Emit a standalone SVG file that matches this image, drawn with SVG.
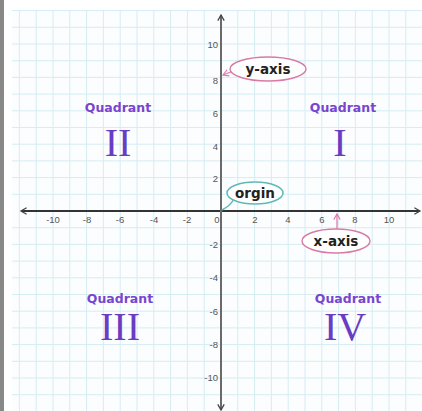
<svg xmlns="http://www.w3.org/2000/svg" width="422" height="411" viewBox="0 0 422 411">
<defs>
<style>
.grid line{stroke:#d6edf2;stroke-width:1}
.tick{font-family:"Liberation Sans",Arial,sans-serif;font-size:9.5px;fill:#555}
.ql{font-family:"DejaVu Sans","Liberation Sans",sans-serif;font-weight:bold;font-size:12.5px;fill:#7a44cf;text-anchor:middle}
.qn{font-family:"Liberation Serif","DejaVu Serif",serif;font-size:40px;fill:#6a3cc4;text-anchor:middle}
.call{font-family:"DejaVu Sans","Liberation Sans",sans-serif;font-weight:bold;font-size:13.5px;fill:#222;text-anchor:middle}
</style>
<marker id="ah" viewBox="0 0 10 10" refX="8" refY="5" markerWidth="8" markerHeight="8" orient="auto-start-reverse" markerUnits="userSpaceOnUse">
<path d="M1,1 L8,5 L1,9" fill="none" stroke="#444" stroke-width="1.6"/>
</marker>
<marker id="pa" viewBox="0 0 10 10" refX="8" refY="5" markerWidth="8" markerHeight="8" orient="auto" markerUnits="userSpaceOnUse">
<path d="M1,1 L8,5 L1,9" fill="none" stroke="#e07aa8" stroke-width="1.4"/>
</marker>
</defs>
<rect width="422" height="411" fill="#ffffff"/>
<rect x="0" y="0" width="4" height="411" fill="#888"/>
<rect x="12" y="10" width="410" height="401" fill="#fbfdfe"/>
<g class="grid">
<line x1="19.4" y1="10" x2="19.4" y2="411"/><line x1="36.2" y1="10" x2="36.2" y2="411"/><line x1="53" y1="10" x2="53" y2="411"/><line x1="69.8" y1="10" x2="69.8" y2="411"/><line x1="86.6" y1="10" x2="86.6" y2="411"/><line x1="103.4" y1="10" x2="103.4" y2="411"/><line x1="120.2" y1="10" x2="120.2" y2="411"/><line x1="137" y1="10" x2="137" y2="411"/><line x1="153.8" y1="10" x2="153.8" y2="411"/><line x1="170.6" y1="10" x2="170.6" y2="411"/><line x1="187.4" y1="10" x2="187.4" y2="411"/><line x1="204.2" y1="10" x2="204.2" y2="411"/><line x1="237.8" y1="10" x2="237.8" y2="411"/><line x1="254.6" y1="10" x2="254.6" y2="411"/><line x1="271.4" y1="10" x2="271.4" y2="411"/><line x1="288.2" y1="10" x2="288.2" y2="411"/><line x1="305" y1="10" x2="305" y2="411"/><line x1="321.8" y1="10" x2="321.8" y2="411"/><line x1="338.6" y1="10" x2="338.6" y2="411"/><line x1="355.4" y1="10" x2="355.4" y2="411"/><line x1="372.2" y1="10" x2="372.2" y2="411"/><line x1="389" y1="10" x2="389" y2="411"/><line x1="405.8" y1="10" x2="405.8" y2="411"/>
<line x1="12" y1="10.6" x2="422" y2="10.6"/><line x1="12" y1="27.3" x2="422" y2="27.3"/><line x1="12" y1="44" x2="422" y2="44"/><line x1="12" y1="60.7" x2="422" y2="60.7"/><line x1="12" y1="77.4" x2="422" y2="77.4"/><line x1="12" y1="94.1" x2="422" y2="94.1"/><line x1="12" y1="110.8" x2="422" y2="110.8"/><line x1="12" y1="127.5" x2="422" y2="127.5"/><line x1="12" y1="144.2" x2="422" y2="144.2"/><line x1="12" y1="160.9" x2="422" y2="160.9"/><line x1="12" y1="177.6" x2="422" y2="177.6"/><line x1="12" y1="194.3" x2="422" y2="194.3"/><line x1="12" y1="227.7" x2="422" y2="227.7"/><line x1="12" y1="244.4" x2="422" y2="244.4"/><line x1="12" y1="261.1" x2="422" y2="261.1"/><line x1="12" y1="277.8" x2="422" y2="277.8"/><line x1="12" y1="294.5" x2="422" y2="294.5"/><line x1="12" y1="311.2" x2="422" y2="311.2"/><line x1="12" y1="327.9" x2="422" y2="327.9"/><line x1="12" y1="344.6" x2="422" y2="344.6"/><line x1="12" y1="361.3" x2="422" y2="361.3"/><line x1="12" y1="378" x2="422" y2="378"/><line x1="12" y1="394.7" x2="422" y2="394.7"/>
</g>
<g id="axes">
<line id="x-axis-line" x1="21" y1="211" x2="420" y2="211" stroke="#333" stroke-width="2" marker-start="url(#ah)" marker-end="url(#ah)"/>
<line id="y-axis-line" x1="221" y1="410" x2="221" y2="15" stroke="#6a6a6a" stroke-width="2" marker-start="url(#ah)" marker-end="url(#ah)"/>
</g>
<g id="x-ticks" class="tick" text-anchor="middle">
<text x="53" y="223">-10</text><text x="87" y="223">-8</text><text x="120" y="223">-6</text><text x="154" y="223">-4</text><text x="187" y="223">-2</text><text x="217" y="223">0</text><text x="255" y="223">2</text><text x="288" y="223">4</text><text x="322" y="223">6</text><text x="355" y="223">8</text><text x="389" y="223">10</text>
</g>
<g id="y-ticks" class="tick" text-anchor="end">
<text x="218" y="48">10</text><text x="218" y="84">8</text><text x="218" y="117">6</text><text x="218" y="150">4</text><text x="218" y="182">2</text><text x="218" y="248">-2</text><text x="218" y="281">-4</text><text x="218" y="315">-6</text><text x="218" y="348">-8</text><text x="218" y="381">-10</text>
</g>
<g id="connectors" fill="none">
<line x1="233" y1="71" x2="223" y2="75" stroke="#e07aa8" stroke-width="1.3" marker-end="url(#pa)"/>
<line x1="337" y1="229" x2="337" y2="214" stroke="#e07aa8" stroke-width="1.3" marker-end="url(#pa)"/>
<path d="M234,199 Q230,206 222,210" stroke="#5fb8b8" stroke-width="1.5"/>
</g>
<g id="y-axis-label">
<ellipse cx="268" cy="69" rx="38" ry="12" fill="#fff" stroke="#d87aa5" stroke-width="1.4"/>
<text class="call" x="268" y="74">y-axis</text>
</g>
<g id="origin-label">
<ellipse cx="255" cy="193" rx="28" ry="11" fill="#fff" stroke="#5fb8b8" stroke-width="1.5"/>
<text class="call" x="255" y="198">orgin</text>
</g>
<g id="x-axis-label">
<ellipse cx="336" cy="241" rx="34" ry="12" fill="#fff" stroke="#d87aa5" stroke-width="1.4"/>
<text class="call" x="336" y="246">x-axis</text>
</g>
<g id="quadrant-I"><text class="ql" x="343" y="112">Quadrant</text><text class="qn" x="340" y="156">I</text></g>
<g id="quadrant-II"><text class="ql" x="118" y="112">Quadrant</text><text class="qn" x="118" y="156">II</text></g>
<g id="quadrant-III"><text class="ql" x="120" y="303">Quadrant</text><text class="qn" x="120" y="340">III</text></g>
<g id="quadrant-IV"><text class="ql" x="348" y="303">Quadrant</text><text class="qn" x="345" y="340">IV</text></g>
</svg>
